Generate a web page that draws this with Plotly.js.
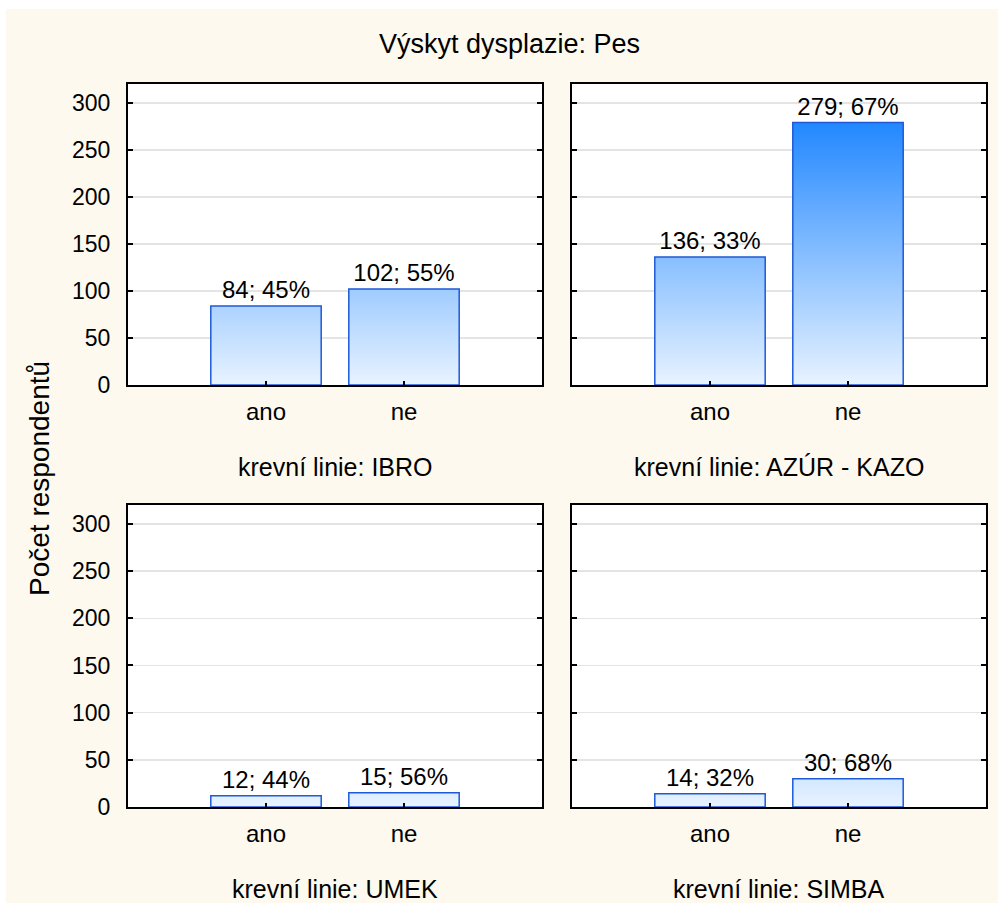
<!DOCTYPE html>
<html>
<head>
<meta charset="utf-8">
<script src="https://cdn.plot.ly/plotly-3.0.1.min.js"></script>
<style>
  html, body { margin: 0; padding: 0; background: #ffffff; }
  #chart { width: 998px; height: 903px; }
</style>
</head>
<body>
<div id="chart"></div>
<script>
// ---- data ----
var categories = ['ano', 'ne'];
var panelNames = ['IBRO', 'AZÚR - KAZO', 'UMEK', 'SIMBA'];
var countsIBRO = [84, 102];
var countsAZUR = [136, 279];
var countsUMEK = [12, 15];
var countsSIMBA = [14, 30];
var pctIBRO = [45, 55];
var pctAZUR = [33, 67];
var pctUMEK = [44, 56];
var pctSIMBA = [32, 68];
var yTickVals = [0, 50, 100, 150, 200, 250, 300];
var chartTitle = 'Výskyt dysplazie: Pes';
var yTitle = 'Počet respondentů';
var panelPrefix = 'krevní linie: ';

var FONT = 'Liberation Sans, Arial, Helvetica, sans-serif';
var W = 998, H = 903;
var counts = [countsIBRO, countsAZUR, countsUMEK, countsSIMBA];
var pcts = [pctIBRO, pctAZUR, pctUMEK, pctSIMBA];

// panel boxes in pixels [left, right, top, bottom]
var boxes = [
  [128, 542, 84, 385],
  [572, 986, 84, 385],
  [128, 542, 505, 807],
  [572, 986, 505, 807]
];
var labelY = [467, 467, 889, 889];

var data = [];
var layout = {
  width: W, height: H,
  margin: {l: 0, r: 0, t: 0, b: 0},
  paper_bgcolor: 'rgb(253,249,238)',
  plot_bgcolor: '#ffffff',
  showlegend: false,
  bargap: 0.2,
  font: {family: FONT, size: 23, color: '#000'},
  annotations: [],
  shapes: [
    {type: 'rect', xref: 'paper', yref: 'paper', x0: 0, x1: 6 / W, y0: 0, y1: 1,
     fillcolor: '#ffffff', line: {width: 0}, layer: 'above'},
    {type: 'rect', xref: 'paper', yref: 'paper', x0: 0, x1: 1, y0: 1 - 9 / H, y1: 1,
     fillcolor: '#ffffff', line: {width: 0}, layer: 'above'}
  ]
};

for (var i = 0; i < 4; i++) {
  var s = i === 0 ? '' : String(i + 1);
  var b = boxes[i];
  var txt = counts[i].map(function (c, k) { return c + '; ' + pcts[i][k] + '%'; });
  data.push({
    type: 'bar',
    x: categories,
    y: counts[i],
    xaxis: 'x' + s,
    yaxis: 'y' + s,
    text: txt,
    textposition: 'outside',
    texttemplate: '%{text}',
    constraintext: 'none',
    cliponaxis: false,
    textfont: {family: FONT, size: 24, color: '#000'},
    marker: {color: 'rgb(150,200,255)', line: {color: 'rgb(30,90,215)', width: 1.5}},
    hoverinfo: 'none'
  });
  layout['xaxis' + s] = {
    domain: [b[0] / W, b[1] / W],
    anchor: 'y' + s,
    type: 'category',
    range: [-1, 2],
    showline: true, linecolor: '#000', linewidth: 2, mirror: true,
    ticks: 'inside', ticklen: 4, tickwidth: 1.5, tickcolor: '#000',
    showgrid: false, zeroline: false,
    tickfont: {family: FONT, size: 24, color: '#000'},
    ticklabelstandoff: 4,
    fixedrange: true
  };
  layout['yaxis' + s] = {
    domain: [1 - b[3] / H, 1 - b[2] / H],
    anchor: 'x' + s,
    range: [0, 320],
    tickvals: yTickVals,
    showticklabels: (i % 2 === 0),
    showline: true, linecolor: '#000', linewidth: 2, mirror: 'ticks',
    ticks: 'inside', ticklen: 5, tickwidth: 2, tickcolor: '#000',
    showgrid: true, gridcolor: 'rgb(228,228,228)', gridwidth: 1.5,
    zeroline: false,
    tickfont: {family: FONT, size: 23, color: '#000'},
    ticklabelstandoff: 11,
    fixedrange: true
  };
  layout.annotations.push({
    text: panelPrefix + panelNames[i],
    xref: 'paper', yref: 'paper',
    x: (b[0] + b[1]) / 2 / W, y: 1 - labelY[i] / H,
    xanchor: 'center', yanchor: 'middle',
    showarrow: false,
    font: {family: FONT, size: 25, color: '#000'}
  });
}

layout.annotations.push({
  text: chartTitle, xref: 'paper', yref: 'paper',
  x: 510 / W, y: 1 - 44 / H, xanchor: 'center', yanchor: 'middle',
  showarrow: false, font: {family: FONT, size: 27, color: '#000'}
});
layout.annotations.push({
  text: yTitle, xref: 'paper', yref: 'paper',
  x: 40 / W, y: 1 - 479 / H, xanchor: 'center', yanchor: 'middle',
  textangle: -90, showarrow: false, font: {family: FONT, size: 28, color: '#000'}
});

function applyGradients(gd) {
  var NS = 'http://www.w3.org/2000/svg';
  var svg = gd.querySelector('svg.main-svg');
  var defs = svg.querySelector('defs');
  if (!defs) { defs = document.createElementNS(NS, 'defs'); svg.insertBefore(defs, svg.firstChild); }
  var fl = gd._fullLayout;
  ['xy', 'x2y2', 'x3y3', 'x4y4'].forEach(function (sp, i) {
    var pi = fl._plots[sp];
    if (!pi) return;
    var ya = pi.yaxis;
    var id = 'barGrad' + i;
    var g = document.createElementNS(NS, 'linearGradient');
    g.setAttribute('id', id);
    g.setAttribute('gradientUnits', 'userSpaceOnUse');
    g.setAttribute('x1', 0); g.setAttribute('x2', 0);
    g.setAttribute('y1', ya.l2p(ya.range[1]));
    g.setAttribute('y2', ya.l2p(0));
    var st1 = document.createElementNS(NS, 'stop');
    st1.setAttribute('offset', '0'); st1.setAttribute('stop-color', 'rgb(5,120,255)');
    var st2 = document.createElementNS(NS, 'stop');
    st2.setAttribute('offset', '1'); st2.setAttribute('stop-color', 'rgb(232,243,255)');
    g.appendChild(st1); g.appendChild(st2);
    defs.appendChild(g);
    var paths = pi.plot.node().querySelectorAll('.bars .point path');
    for (var k = 0; k < paths.length; k++) {
      paths[k].style.fill = 'url(#' + id + ')';
    }
  });
}

Plotly.newPlot('chart', data, layout, {staticPlot: true, displayModeBar: false}).then(applyGradients);
</script>
</body>
</html>
